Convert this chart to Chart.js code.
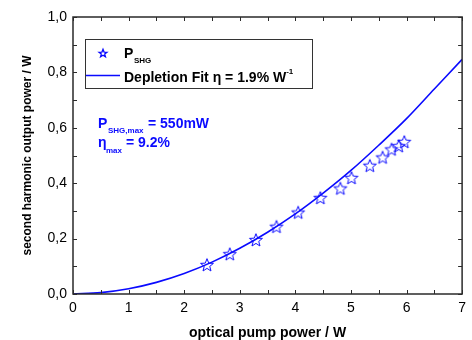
<!DOCTYPE html>
<html>
<head>
<meta charset="utf-8">
<script src="https://cdn.jsdelivr.net/npm/chart.js@4"></script>
<style>
  html, body { margin: 0; padding: 0; background: #fff; }
  #wrap { width: 472px; height: 340px; }
</style>
</head>
<body>
<div id="wrap"><canvas id="shgChart" width="472" height="340"></canvas></div>
<script>
// measured second harmonic power (W) vs pump power (W)
const pumpPower = [2.41, 2.82, 3.29, 3.66, 4.05, 4.45, 4.81, 5.01, 5.34, 5.57, 5.73, 5.86, 5.96];
const shgPower = [0.105, 0.144, 0.195, 0.243, 0.294, 0.347, 0.381, 0.419, 0.463, 0.493, 0.522, 0.534, 0.549];

// depletion fit curve
const fitPump = [0, 0.5, 1, 1.5, 2, 2.5, 3, 3.5, 4, 4.5, 5, 5.5, 6, 6.5, 7];
const fitShg = [0, 0.005, 0.019, 0.042, 0.074, 0.115, 0.165, 0.223, 0.289, 0.364, 0.446, 0.537, 0.633, 0.74, 0.847];

const xTicks = [0, 1, 2, 3, 4, 5, 6, 7];
const yTicks = [0, 0.2, 0.4, 0.6, 0.8, 1.0];

const BLUE = '#0a0aff';
const FONT = '"Liberation Sans", Arial, sans-serif';

function starPath(ctx, cx, cy, ro, ri) {
    ctx.beginPath();
    for (let i = 0; i < 10; i++) {
        const r = i % 2 === 0 ? ro : ri;
        const a = -Math.PI / 2 + i * Math.PI / 5;
        const px = cx + r * Math.cos(a);
        const py = cy + r * Math.sin(a);
        if (i === 0) ctx.moveTo(px, py); else ctx.lineTo(px, py);
    }
    ctx.closePath();
}

// hollow 5-point star used as point style
const starImg = document.createElement('canvas');
starImg.width = 16;
starImg.height = 16;
(function () {
    const c = starImg.getContext('2d');
    starPath(c, 8, 8.5, 6.8, 2.9);
    c.strokeStyle = BLUE;
    c.lineWidth = 1;
    c.stroke();
})();

// frame with inward ticks on all four sides
const framePlugin = {
    id: 'frame',
    afterDraw(chart) {
        const ctx = chart.ctx;
        const a = chart.chartArea;
        const xs = chart.scales.x, ys = chart.scales.y;
        ctx.save();
        ctx.strokeStyle = '#2a2a2a';
        ctx.lineWidth = 1.5;
        ctx.strokeRect(a.left, a.top, a.right - a.left, a.bottom - a.top);
        ctx.lineWidth = 1;
        ctx.beginPath();
        for (let v = 0; v <= 7.001; v += 0.5) {
            const px = Math.round(xs.getPixelForValue(v)) + 0.5;
            ctx.moveTo(px, a.bottom); ctx.lineTo(px, a.bottom - 4);
            ctx.moveTo(px, a.top); ctx.lineTo(px, a.top + 4);
        }
        for (let v = 0; v <= 1.001; v += 0.1) {
            const py = Math.round(ys.getPixelForValue(v)) + 0.5;
            ctx.moveTo(a.left, py); ctx.lineTo(a.left + 4, py);
            ctx.moveTo(a.right, py); ctx.lineTo(a.right - 4, py);
        }
        ctx.stroke();
        ctx.restore();
    }
};

// legend box and annotation text with sub/superscripts
const notesPlugin = {
    id: 'notes',
    afterDraw(chart) {
        const ctx = chart.ctx;
        const a = chart.chartArea;
        const L = a.left, T = a.top;
        ctx.save();

        // legend box
        ctx.strokeStyle = '#333';
        ctx.lineWidth = 1;
        ctx.strokeRect(L + 12.5, T + 22.5, 227, 49);

        starPath(ctx, L + 30, T + 36.5, 4.2, 1.8);
        ctx.strokeStyle = BLUE;
        ctx.lineWidth = 1.3;
        ctx.stroke();

        ctx.beginPath();
        ctx.moveTo(L + 13, T + 58.5);
        ctx.lineTo(L + 47, T + 58.5);
        ctx.lineWidth = 1.3;
        ctx.stroke();

        ctx.fillStyle = '#000';
        ctx.textBaseline = 'alphabetic';
        ctx.textAlign = 'left';
        ctx.font = 'bold 14px ' + FONT;
        ctx.fillText('P', L + 51, T + 41);
        ctx.font = 'bold 8px ' + FONT;
        ctx.fillText('SHG', L + 61, T + 46);

        ctx.font = 'bold 14px ' + FONT;
        const t = 'Depletion Fit \u03b7 = 1.9% W';
        ctx.fillText(t, L + 51, T + 64.5);
        const tw = ctx.measureText(t).width;
        ctx.font = 'bold 8px ' + FONT;
        ctx.fillText('-1', L + 51 + tw, T + 57);

        // annotation
        ctx.fillStyle = BLUE;
        ctx.font = 'bold 14px ' + FONT;
        ctx.fillText('P', L + 25, T + 110.5);
        ctx.font = 'bold 8px ' + FONT;
        ctx.fillText('SHG,max', L + 35, T + 115.5);
        ctx.font = 'bold 14px ' + FONT;
        ctx.fillText('= 550mW', L + 75, T + 110.5);

        ctx.fillText('\u03b7', L + 25, T + 130);
        ctx.font = 'bold 8px ' + FONT;
        ctx.fillText('max', L + 33, T + 135.5);
        ctx.font = 'bold 14px ' + FONT;
        ctx.fillText('= 9.2%', L + 53, T + 130);

        ctx.restore();
    }
};

const ctx = document.getElementById('shgChart').getContext('2d');
new Chart(ctx, {
    type: 'scatter',
    data: {
        datasets: [
            {
                label: 'Depletion Fit',
                data: fitPump.map((x, i) => ({ x: x, y: fitShg[i] })),
                showLine: true,
                borderColor: BLUE,
                borderWidth: 1.6,
                pointRadius: 0,
                cubicInterpolationMode: 'monotone',
                fill: false,
                order: 2
            },
            {
                label: 'P_SHG',
                data: pumpPower.map((x, i) => ({ x: x, y: shgPower[i] })),
                pointStyle: starImg,
                pointRadius: 7,
                showLine: false,
                order: 1
            }
        ]
    },
    options: {
        responsive: false,
        animation: false,
        devicePixelRatio: 1,
        layout: { padding: { top: 17, right: 9, bottom: 0, left: 0 } },
        plugins: {
            legend: { display: false },
            tooltip: { enabled: false }
        },
        scales: {
            x: {
                type: 'linear',
                min: 0,
                max: 7,
                afterBuildTicks: s => { s.ticks = xTicks.map(v => ({ value: v })); },
                afterFit: s => { s.height = 46; },
                grid: { display: false, drawTicks: false },
                border: { display: false },
                ticks: {
                    color: '#000',
                    padding: 6,
                    font: { family: FONT, size: 14 },
                    callback: v => String(v)
                },
                title: {
                    display: true,
                    text: 'optical pump power / W',
                    color: '#000',
                    font: { family: FONT, size: 14, weight: 'bold' },
                    padding: { top: 0, bottom: -2 }
                }
            },
            y: {
                type: 'linear',
                min: 0,
                max: 1,
                afterBuildTicks: s => { s.ticks = yTicks.map(v => ({ value: v })); },
                afterFit: s => { s.width = 73; },
                grid: { display: false, drawTicks: false },
                border: { display: false },
                ticks: {
                    color: '#000',
                    padding: 6,
                    font: { family: FONT, size: 14 },
                    callback: v => Number(v).toFixed(1).replace('.', ',')
                },
                title: {
                    display: true,
                    text: 'second harmonic output power / W',
                    color: '#000',
                    font: { family: FONT, size: 12, weight: 'bold' },
                    padding: { top: 20, bottom: 0 }
                }
            }
        }
    },
    plugins: [framePlugin, notesPlugin]
});
</script>
</body>
</html>
